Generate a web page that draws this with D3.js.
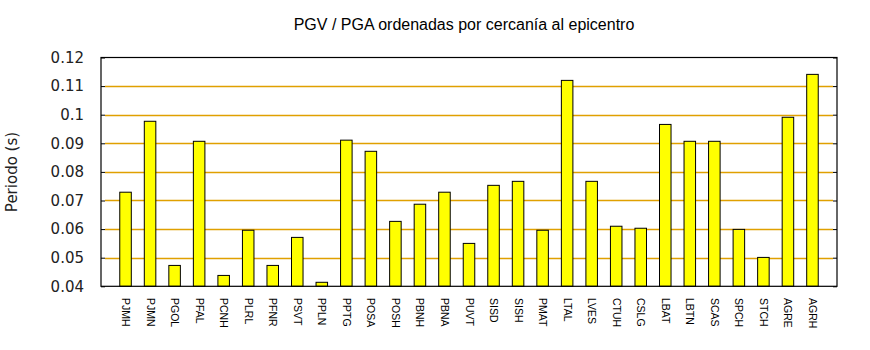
<!DOCTYPE html>
<html>
<head>
<meta charset="utf-8">
<script src="https://cdn.jsdelivr.net/npm/d3@7"></script>
<style>
  html, body { margin: 0; padding: 0; background: #fff; }
  svg { display: block; }
</style>
</head>
<body>
<svg id="chart" width="870" height="350"></svg>
<script>
// Stations, ordered by distance to the epicentre
const stations = ["PJMH","PJMN","PGOL","PFAL","PCNH","PLRL","PFNR","PSVT","PPLN","PPTG",
  "POSA","POSH","PBNH","PBNA","PUVT","SISD","SISH","PMAT","LTAL","LVES",
  "CTUH","CSLG","LBAT","LBTN","SCAS","SPCH","STCH","AGRE","AGRH"];
// PGV / PGA period (s)
const periods = [0.0729,0.0977,0.0473,0.0907,0.0438,0.0596,0.0473,0.0571,0.0414,0.0911,
  0.0872,0.0627,0.0687,0.0729,0.0550,0.0753,0.0767,0.0596,0.1120,0.0767,
  0.0610,0.0603,0.0966,0.0907,0.0907,0.0599,0.0501,0.0991,0.1141];
const yTicks = [0.04,0.05,0.06,0.07,0.08,0.09,0.10,0.11,0.12];
const yTickLabels = ["0.04","0.05","0.06","0.07","0.08","0.09","0.1","0.11","0.12"];
const title = "PGV / PGA ordenadas por cercanía al epicentro";
const yTitle = "Periodo (s)";

const svg = d3.select("#chart");
const plotLeft = 101, plotRight = 837, plotTop = 57.5, plotBottom = 286.3;

const x = d3.scaleLinear().domain([-1, stations.length]).range([plotLeft, plotRight]);
const y = d3.scaleLinear().domain([0.04, 0.12]).range([plotBottom, plotTop]);
const barW = x(0.47) - x(0);

// horizontal grid lines
svg.append("g").selectAll("line")
  .data(yTicks.filter(t => t > 0.04 + 1e-9 && t < 0.12 - 1e-9))
  .join("line")
  .attr("x1", plotLeft + 4).attr("x2", plotRight - 4)
  .attr("y1", d => Math.round(y(d)) + 0.5).attr("y2", d => Math.round(y(d)) + 0.5)
  .attr("stroke", "#e0a000").attr("stroke-width", 1.5);

// bars
svg.append("g").selectAll("rect")
  .data(periods)
  .join("rect")
  .attr("x", (d, i) => x(i) - barW / 2)
  .attr("y", d => y(d))
  .attr("width", barW)
  .attr("height", d => plotBottom - y(d))
  .attr("fill", "#ffff00")
  .attr("stroke", "#000")
  .attr("stroke-width", 1);

// left axis with inward ticks
const yAxisL = d3.axisLeft(y).tickValues(yTicks).tickSize(-4).tickPadding(17)
  .tickFormat((d, i) => yTickLabels[i]);
const gL = svg.append("g").attr("transform", `translate(${plotLeft},0)`).call(yAxisL);
gL.select(".domain").remove();
gL.selectAll("text").attr("font-family", "DejaVu Sans").attr("font-size", 15).attr("fill", "#222");
gL.selectAll("line").attr("stroke", "#000");

// mirrored ticks on the right
const yAxisR = d3.axisRight(y).tickValues(yTicks).tickSize(-4).tickFormat("");
const gR = svg.append("g").attr("transform", `translate(${plotRight},0)`).call(yAxisR);
gR.select(".domain").remove();
gR.selectAll("line").attr("stroke", "#000");

// plot border
svg.append("rect")
  .attr("x", plotLeft).attr("y", plotTop)
  .attr("width", plotRight - plotLeft).attr("height", plotBottom - plotTop)
  .attr("fill", "none").attr("stroke", "#000").attr("stroke-width", 1.2);

// station labels, rotated
svg.append("g").selectAll("text")
  .data(stations)
  .join("text")
  .attr("transform", (d, i) => `translate(${x(i) - 3.5},298) rotate(90)`)
  .attr("font-family", "Liberation Sans")
  .attr("font-size", 10.5)
  .attr("fill", "#000")
  .text(d => d);

// title
svg.append("text")
  .attr("x", 464).attr("y", 30)
  .attr("text-anchor", "middle")
  .attr("font-family", "Liberation Sans")
  .attr("font-size", 16)
  .attr("fill", "#000")
  .text(title);

// y-axis title
svg.append("text")
  .attr("transform", `translate(17,172) rotate(-90)`)
  .attr("text-anchor", "middle")
  .attr("font-family", "DejaVu Sans")
  .attr("font-size", 15)
  .attr("fill", "#222")
  .text(yTitle);
</script>
</body>
</html>
